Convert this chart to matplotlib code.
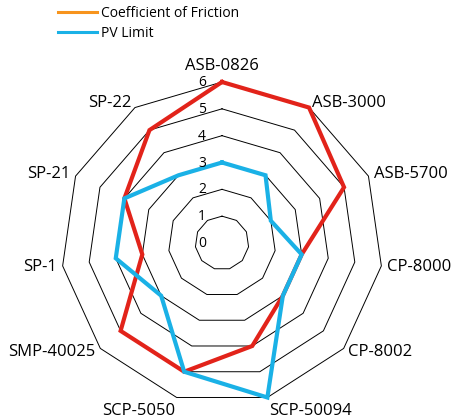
import numpy as np
import matplotlib.pyplot as plt
from matplotlib.lines import Line2D
from matplotlib.transforms import offset_copy

plt.rcParams['font.family'] = ['Open Sans', 'DejaVu Sans']

categories = ['ASB-0826', 'ASB-3000', 'ASB-5700', 'CP-8000', 'CP-8002',
              'SCP-50094', 'SCP-5050', 'SMP-40025', 'SP-1', 'SP-21', 'SP-22']
friction = [6, 6, 5, 3, 3, 4, 5, 5, 3, 4, 5]
pv_limit = [3, 3, 2, 3, 3, 6, 5, 3, 4, 4, 3]
ticks = [0, 1, 2, 3, 4, 5, 6]

red = '#e2231a'
orange = '#f7941d'
blue = '#1ab1e6'

W, H = 454, 419
fig = plt.figure(figsize=(W / 100, H / 100), dpi=100)
cx, cy, R = 222, 243, 161
ax = fig.add_axes([(cx - R) / W, (H - cy - R) / H, 2 * R / W, 2 * R / H], projection='polar')
ax.set_theta_zero_location('N')
ax.set_theta_direction(-1)
ax.set_ylim(0, 6)
ax.grid(False)
ax.spines['polar'].set_visible(False)
ax.set_xticks([])
ax.set_yticks([])
ax.patch.set_alpha(0)

n = len(categories)
angles = np.linspace(0, 2 * np.pi, n, endpoint=False)
closed = np.append(angles, angles[0])

# polygon rings
for t in ticks[1:]:
    ax.plot(closed, [t] * (n + 1), color='black', lw=0.7, clip_on=False, zorder=1)

def close(v):
    return list(v) + [v[0]]

ax.plot(closed, close(friction), color=red, lw=3, clip_on=False, zorder=3,
        solid_joinstyle='miter')
ax.plot(closed, close(pv_limit), color=blue, lw=3, clip_on=False, zorder=4,
        solid_joinstyle='miter')

# radial tick labels
tr = offset_copy(ax.transData, fig=fig, x=-20, y=-0.5, units='dots')
for t in ticks:
    ax.text(0, t, str(t), transform=tr, ha='center', va='center', fontsize=10, zorder=5)

# category labels
for a, lab in zip(angles, categories):
    s, c = np.sin(a), np.cos(a)  # s: x dir, c: y dir
    ha = 'center' if abs(s) < 0.05 else ('left' if s > 0 else 'right')
    r = 6.22
    if c > 0.95:
        va = 'bottom'
        r = 6.3
    elif c < -0.95:
        va = 'top'
    else:
        va = 'center'
    ax.text(a, r, lab, ha=ha, va=va, fontsize=12, clip_on=False)

handles = [Line2D([], [], color=orange, lw=2.2),
           Line2D([], [], color=blue, lw=2.2)]
fig.legend(handles, ['Coefficient of Friction', 'PV Limit'], loc='upper left',
           bbox_to_anchor=(58 / W, 1 - 6 / H), frameon=False, fontsize=10,
           handlelength=2.8, handletextpad=0.3, labelspacing=0.35,
           borderpad=0, borderaxespad=0)

fig.savefig('out.png', dpi=100)
